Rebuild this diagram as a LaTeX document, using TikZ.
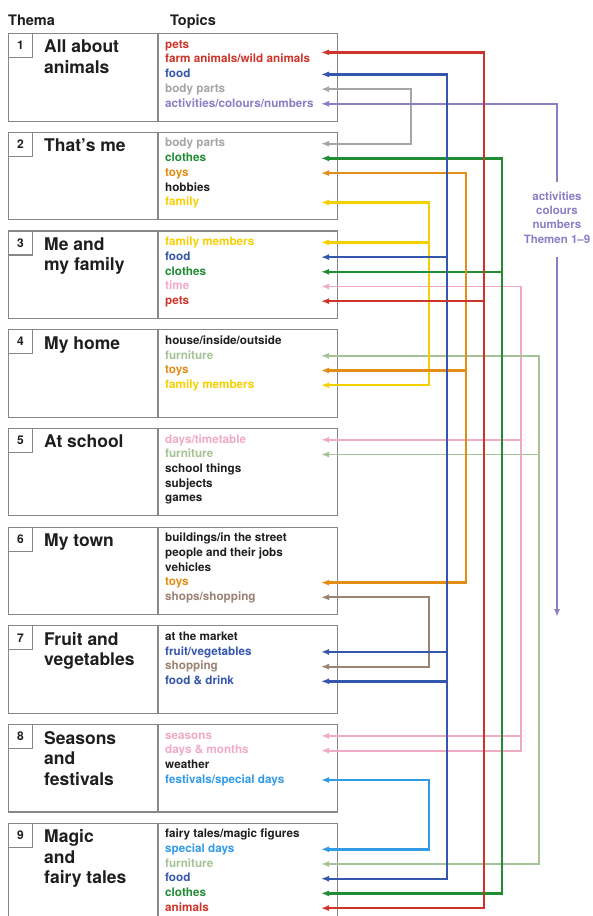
\documentclass[tikz,border=0pt]{standalone}
\usepackage{fontspec}
\setmainfont{TeX Gyre Heros}
\usetikzlibrary{arrows.meta}
\definecolor{ink}{RGB}{30,30,30}
\definecolor{boxgray}{RGB}{135,135,135}
\definecolor{cR}{RGB}{205,52,42}
\definecolor{cB}{RGB}{52,86,172}
\definecolor{cG}{RGB}{165,165,165}
\definecolor{cP}{RGB}{140,126,196}
\definecolor{cGr}{RGB}{32,140,52}
\definecolor{cO}{RGB}{226,142,22}
\definecolor{cY}{RGB}{245,208,0}
\definecolor{cPk}{RGB}{240,170,200}
\definecolor{cL}{RGB}{165,195,150}
\definecolor{cBr}{RGB}{155,130,115}
\definecolor{cLb}{RGB}{50,155,230}
\newcommand\Yr[2]{(33+98.7*(#1-1)+12+14.7*(#2))}
\newcommand\Tp[2]{(33+98.7*(#1-1)+#2)}
\tikzset{
  themebox/.style={draw=boxgray, line width=1.1pt, anchor=north west, inner sep=0pt,
    minimum width=329pt, minimum height=87.5pt},
  numbox/.style={draw=boxgray, line width=1.1pt, anchor=north west, inner sep=0pt,
    minimum size=24pt, text=ink, font=\fontsize{12}{14}\selectfont\bfseries},
  divline/.style={draw=boxgray, line width=1.1pt},
  titletext/.style={anchor=north west, inner sep=0pt, align=left, text=ink,
    font=\fontsize{17.5}{20.5}\selectfont\bfseries},
  topic/.style={anchor=base west, inner sep=0pt, text=ink,
    font=\fontsize{11.7}{13}\selectfont\bfseries},
  headtext/.style={anchor=base west, inner sep=0pt, text=ink,
    font=\fontsize{14.5}{16}\selectfont\bfseries},
  sidetext/.style={align=center, inner sep=0pt, text=cP,
    font=\fontsize{11.5}{14.3}\selectfont\bfseries},
  thickline/.style={line width=2.4pt},
  thinline/.style={line width=1.9pt},
}
\begin{document}
\begin{tikzpicture}[x=1pt,y=-1pt,>={Latex[length=8pt,width=6pt]}]
\useasboundingbox (0,0) rectangle (593,916);
\clip (0,0) rectangle (593,916);
\fill[white] (0,0) rectangle (593,916);

\node[headtext] (hThema) at (8,25) {Thema};
\node[headtext] (hTopics) at (170,25) {Topics};

% theme boxes
\foreach \i/\ttl in {1/{All about\\animals},2/{That’s me},3/{Me and\\my family},
  4/{My home},5/{At school},6/{My town},7/{Fruit and\\vegetables},
  8/{Seasons\\and\\festivals}}{
  \node[themebox] (box\i) at (8,{\Tp{\i}{0}}) {};
  \draw[divline] ([xshift=150pt]box\i.north west) -- ([xshift=150pt]box\i.south west);
  \node[numbox] (num\i) at (box\i.north west) {\i};
  \node[titletext] (ttl\i) at ([xshift=36pt,yshift=-7pt]box\i.north west) {\ttl};
}
\node[themebox, minimum height=110pt] (box9) at (8,{\Tp{9}{0}}) {};
\draw[divline] ([xshift=150pt]box9.north west) -- ([xshift=150pt]box9.south west);
\node[numbox] (num9) at (box9.north west) {9};
\node[titletext] (ttl9) at ([xshift=36pt,yshift=-7pt]box9.north west) {Magic\\and\\fairy tales};

% topics
\foreach \b/\k/\c/\t in {
  1/0/cR/{pets}, 1/1/cR/{farm animals/wild animals}, 1/2/cB/{food}, 1/3/cG/{body parts},
  1/4/cP/{activities/colours/numbers},
  2/0/cG/{body parts}, 2/1/cGr/{clothes}, 2/2/cO/{toys}, 2/3/ink/{hobbies}, 2/4/cY/{family},
  3/0/cY/{family members}, 3/1/cB/{food}, 3/2/cGr/{clothes}, 3/3/cPk/{time}, 3/4/cR/{pets},
  4/0/ink/{house/inside/outside}, 4/1/cL/{furniture}, 4/2/cO/{toys}, 4/3/cY/{family members},
  5/0/cPk/{days/timetable}, 5/1/cL/{furniture}, 5/2/ink/{school things}, 5/3/ink/{subjects},
  5/4/ink/{games},
  6/0/ink/{buildings/in the street}, 6/1/ink/{people and their jobs}, 6/2/ink/{vehicles},
  6/3/cO/{toys}, 6/4/cBr/{shops/shopping},
  7/0/ink/{at the market}, 7/1/cB/{fruit/vegetables}, 7/2/cBr/{shopping}, 7/3/cB/{food \& drink},
  8/0/cPk/{seasons}, 8/1/cPk/{days \& months}, 8/2/ink/{weather}, 8/3/cLb/{festivals/special days},
  9/0/ink/{fairy tales/magic figures}, 9/1/cLb/{special days}, 9/2/cL/{furniture},
  9/3/cB/{food}, 9/4/cGr/{clothes}, 9/5/cR/{animals}}{
  \node[topic, text=\c] (tp\b-\k) at (165,{\Yr{\b}{\k}+3.2}) {\t};
}

% arrow tips
\foreach \n/\b/\k in {R1/1/0.5, R3/3/4, R9/9/5,
  B1/1/2, B3/3/1, B7a/7/1, B7b/7/3, B9/9/3,
  G1/1/3, G2/2/0, P1/1/4,
  Gr2/2/1, Gr3/3/2, Gr9/9/4,
  O2/2/2, O4/4/2, O6/6/3,
  Y2/2/4, Y3/3/0, Y4/4/3,
  Pk3/3/3, Pk5/5/0, Pk8a/8/0, Pk8b/8/1,
  L4/4/1, L5/5/1, L9/9/2,
  Br6/6/4, Br7/7/2, Lb8/8/3, Lb9/9/1}{
  \coordinate (a\n) at (321,{\Yr{\b}{\k}});
}
% trunk columns
\coordinate (xG) at (411,0);
\coordinate (xY) at (429,0);
\coordinate (xB) at (447,0);
\coordinate (xO) at (466,0);
\coordinate (xR) at (484,0);
\coordinate (xGr) at (502,0);
\coordinate (xPk) at (521,0);
\coordinate (xL) at (539,0);
\coordinate (xP) at (557,0);
\coordinate (pg1) at (557,182);
\coordinate (pg2) at (557,257);
\coordinate (pend) at (557,617);

% thin light connectors
\draw[thinline, cPk, <->] (aPk3) -- (xPk |- aPk3) -- (xPk |- aPk8b) -- (aPk8b);
\foreach \n in {Pk5,Pk8a} \draw[thinline, cPk, ->] (xPk |- a\n) -- (a\n);
\draw[thinline, cL, <->] (aL4) -- (xL |- aL4) -- (xL |- aL9) -- (aL9);
\draw[thinline, cL, ->] (xL |- aL5) -- (aL5);
\draw[thinline, cG, <->] (aG1) -- (xG |- aG1) -- (xG |- aG2) -- (aG2);
\draw[thinline, cBr, <->] (aBr6) -- (xY |- aBr6) -- (xY |- aBr7) -- (aBr7);
\draw[thinline, cP, <-] (aP1) -- (xP |- aP1) -- (pg1);
\node[sidetext] (side) at (557,217.4) {activities\\colours\\numbers\\Themen 1–9};
\draw[thinline, cP, ->] (pg2) -- (pend);

% thick connectors
\draw[thickline, cLb, <->] (aLb8) -- (xY |- aLb8) -- (xY |- aLb9) -- (aLb9);
\draw[thickline, cY, <->] (aY2) -- (xY |- aY2) -- (xY |- aY4) -- (aY4);
\draw[thickline, cY, ->] (xY |- aY3) -- (aY3);
\draw[thickline, cGr, <->] (aGr2) -- (xGr |- aGr2) -- (xGr |- aGr9) -- (aGr9);
\draw[thickline, cGr, ->] (xGr |- aGr3) -- (aGr3);
\draw[thickline, cO, <->] (aO2) -- (xO |- aO2) -- (xO |- aO6) -- (aO6);
\draw[thickline, cO, ->] (xO |- aO4) -- (aO4);
\draw[thickline, cB, <->] (aB1) -- (xB |- aB1) -- (xB |- aB9) -- (aB9);
\foreach \n in {B3,B7a,B7b} \draw[thickline, cB, ->] (xB |- a\n) -- (a\n);
\draw[thickline, cR, <->] (aR1) -- (xR |- aR1) -- (xR |- aR9) -- (aR9);
\draw[thickline, cR, ->] (xR |- aR3) -- (aR3);
\end{tikzpicture}
\end{document}
